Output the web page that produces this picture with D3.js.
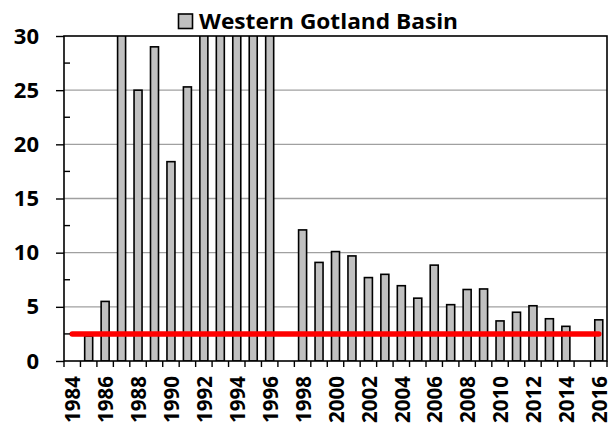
<!DOCTYPE html>
<html>
<head>
<meta charset="utf-8">
<script src="https://cdn.jsdelivr.net/npm/d3@7"></script>
<style>
  body { margin: 0; background: #fff; }
  svg { display: block; font-family: "Open Sans", "Liberation Sans", sans-serif; }
</style>
</head>
<body>
<svg width="616" height="427"></svg>
<script>
// data (null = no sample that year)
const years = d3.range(1984, 2017)
const values = [null, 2.3, 5.5, 36, 25.0, 29.0, 18.4, 25.3, 36, 36, 36, 36, 36, null,
  12.1, 9.1, 10.1, 9.7, 7.7, 8.0, 6.95, 5.8, 8.85, 5.2, 6.6, 6.65,
  3.7, 4.5, 5.1, 3.9, 3.2, null, 3.8]
const refLevel = 2.5
const yTicks = [0, 5, 10, 15, 20, 25, 30]
const seriesName = "Western Gotland Basin"

const svg = d3.select("svg")
const m = {l: 64, r: 607, t: 36, b: 361}

const x = d3.scaleBand().domain(years).range([m.l, m.r]).paddingInner(0).paddingOuter(0)
const y = d3.scaleLinear().domain([0, 30]).range([m.b, m.t])

//clip for bars going past 30
svg.append("clipPath").attr("id", "plot")
  .append("rect").attr("x", m.l).attr("y", m.t).attr("width", m.r - m.l).attr("height", m.b - m.t)

//grid
svg.append("g").selectAll("line").data(yTicks.filter(d => d > 0 && d < 30)).enter().append("line")
  .attr("x1", m.l).attr("x2", m.r)
  .attr("y1", d => y(d)).attr("y2", d => y(d))
  .attr("stroke", "#a0a0a0").attr("stroke-width", 1.3)

//bars
const bw = 8
svg.append("g").attr("clip-path", "url(#plot)")
  .selectAll("rect").data(years.map((yr, i) => ({yr, v: values[i]})).filter(d => d.v != null))
  .enter().append("rect")
  .attr("x", d => x(d.yr) + x.bandwidth() / 2 - bw / 2)
  .attr("width", bw)
  .attr("y", d => y(d.v))
  .attr("height", d => y(0) - y(d.v))
  .attr("fill", "#c0c0c0").attr("stroke", "#000").attr("stroke-width", 1.6)

//reference line
svg.append("line")
  .attr("x1", x(1984) + x.bandwidth() / 2).attr("x2", x(2016) + x.bandwidth() / 2)
  .attr("y1", y(refLevel)).attr("y2", y(refLevel))
  .attr("stroke", "#ff0000").attr("stroke-width", 5.5).attr("stroke-linecap", "round")

//frame
svg.append("rect").attr("x", m.l).attr("y", m.t).attr("width", m.r - m.l).attr("height", m.b - m.t)
  .attr("fill", "none").attr("stroke", "#000").attr("stroke-width", 1.6)

//y axis
const yAx = svg.append("g").attr("transform", `translate(${m.l},0)`)
  .call(d3.axisLeft(y).tickValues(yTicks).tickSize(8).tickPadding(17))
yAx.select(".domain").remove()
yAx.selectAll(".tick line").attr("stroke-width", 1.4)
yAx.selectAll("text").attr("font-size", 22).attr("font-weight", "bold").attr("fill", "#000")
  .attr("font-family", "Open Sans, sans-serif")
//minor ticks inside
svg.append("g").selectAll("line").data(d3.range(2.5, 30, 5)).enter().append("line")
  .attr("x1", m.l).attr("x2", m.l + 6)
  .attr("y1", d => y(d)).attr("y2", d => y(d))
  .attr("stroke", "#000").attr("stroke-width", 1.4)

//x axis: ticks on category boundaries
svg.append("g").selectAll("line").data(years.concat([2017])).enter().append("line")
  .attr("x1", (d, i) => m.l + i * x.step()).attr("x2", (d, i) => m.l + i * x.step())
  .attr("y1", m.b).attr("y2", m.b + 6)
  .attr("stroke", "#000").attr("stroke-width", 1.4)

const xAx = svg.append("g").attr("transform", `translate(0,${m.b})`)
  .call(d3.axisBottom(x).tickValues(years.filter(d => d % 2 == 0)).tickSize(0))
xAx.select(".domain").remove()
xAx.selectAll("text")
  .attr("transform", "rotate(-90)")
  .attr("text-anchor", "end")
  .attr("x", -15).attr("y", 1).attr("dy", "0.35em")
  .attr("font-size", 20.5).attr("font-weight", "bold").attr("fill", "#000")
  .attr("font-family", "Open Sans, sans-serif")

//legend / title
const lg = svg.append("g")
lg.append("rect").attr("x", 178.5).attr("y", 14).attr("width", 14).attr("height", 14.5)
  .attr("fill", "#c0c0c0").attr("stroke", "#000").attr("stroke-width", 1.6)
lg.append("text").attr("x", 199).attr("y", 29)
  .attr("font-size", 22).attr("font-weight", "bold").attr("fill", "#000")
  .attr("textLength", 259).attr("lengthAdjust", "spacingAndGlyphs")
  .text(seriesName)
</script>
</body>
</html>
